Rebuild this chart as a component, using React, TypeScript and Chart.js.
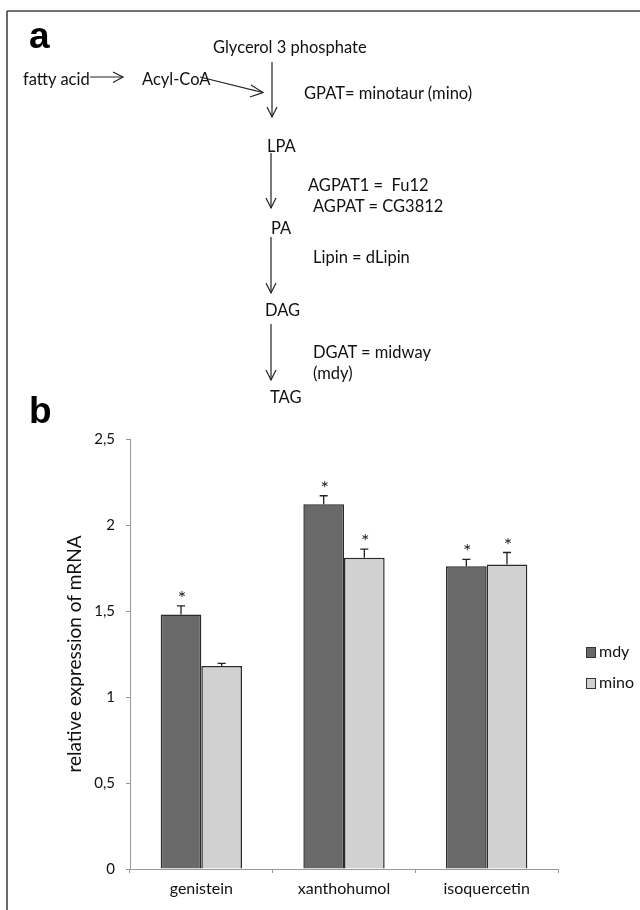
import React, { useEffect, useRef } from "react";
import { Chart, registerables } from "chart.js";

Chart.register(...registerables);

const categories = ["genistein", "xanthohumol", "isoquercetin"];
const seriesNames = ["mdy", "mino"];
const mdyValues = [1.48, 2.12, 1.76];
const minoValues = [1.18, 1.81, 1.77];
const mdyErrors = [0.05, 0.05, 0.04];
const minoErrors = [0.015, 0.05, 0.07];
const mdySignificant = [true, true, true];
const minoSignificant = [false, true, true];
const yTicks = [0, 0.5, 1, 1.5, 2, 2.5];
const yTickLabels = ["0", "0,5", "1", "1,5", "2", "2,5"];
const yAxisTitle = "relative expression of mRNA";

const errorsBySeries = [mdyErrors, minoErrors];
const sigBySeries = [mdySignificant, minoSignificant];
const seriesColors = ["#696969", "#d1d1d1"];

const FONT = "Lato, 'Open Sans', sans-serif";

const errorBarPlugin = {
  id: "errorBars",
  afterDatasetsDraw(chart: any) {
    const ctx = chart.ctx;
    const yScale = chart.scales.y;
    chart.data.datasets.forEach((ds: any, i: number) => {
      const meta = chart.getDatasetMeta(i);
      meta.data.forEach((el: any, j: number) => {
        const v = ds.data[j];
        const err = errorsBySeries[i][j];
        const yTop = yScale.getPixelForValue(v + err);
        const x = el.x;
        ctx.save();
        ctx.strokeStyle = "#222";
        ctx.lineWidth = 1.3;
        ctx.beginPath();
        ctx.moveTo(x, el.y);
        ctx.lineTo(x, yTop);
        ctx.moveTo(x - 4, yTop);
        ctx.lineTo(x + 4, yTop);
        ctx.stroke();
        if (sigBySeries[i][j]) {
          ctx.fillStyle = "#222";
          ctx.font = `20px ${FONT}`;
          ctx.textAlign = "center";
          ctx.textBaseline = "alphabetic";
          ctx.fillText("*", x + 1, yTop - 1);
        }
        ctx.restore();
      });
    });
  },
};

const legendPlugin = {
  id: "sideLegend",
  afterDraw(chart: any) {
    const ctx = chart.ctx;
    const area = chart.chartArea;
    ctx.save();
    chart.data.datasets.forEach((ds: any, i: number) => {
      const bx = area.right + 28;
      const cy = 652 + i * 31;
      ctx.fillStyle = ds.backgroundColor;
      ctx.fillRect(bx, cy - 5, 9, 10);
      ctx.strokeStyle = "#333";
      ctx.lineWidth = 1;
      ctx.strokeRect(bx + 0.5, cy - 4.5, 9, 10);
      ctx.fillStyle = "#111";
      ctx.font = `16px ${FONT}`;
      ctx.textAlign = "left";
      ctx.textBaseline = "middle";
      ctx.fillText(ds.label, bx + 13, cy);
    });
    ctx.restore();
  },
};

function Diagram() {
  const t = { fontFamily: FONT, fontSize: 16.5, fill: "#111" } as any;
  const arrowV = (x: number, y1: number, y2: number) => (
    <g stroke="#222" strokeWidth={1.2} fill="none">
      <line x1={x} y1={y1} x2={x} y2={y2} />
      <polyline points={`${x - 5},${y2 - 10} ${x},${y2} ${x + 5},${y2 - 10}`} />
    </g>
  );
  return (
    <svg
      width={640}
      height={910}
      style={{ position: "absolute", left: 0, top: 0, pointerEvents: "none" }}
    >
      <line x1={7} y1={11} x2={640} y2={11} stroke="#444" strokeWidth={1.6} />
      <line x1={7} y1={11} x2={7} y2={910} stroke="#444" strokeWidth={1.6} />
      <text x={29} y={48} style={{ fontFamily: "'Liberation Sans', Arial, sans-serif", fontWeight: 700, fontSize: 37 }} fill="#000">a</text>
      <text x={29} y={423} style={{ fontFamily: "'Liberation Sans', Arial, sans-serif", fontWeight: 700, fontSize: 37 }} fill="#000">b</text>
      <text x={213} y={53} style={t}>Glycerol 3 phosphate</text>
      <text x={23} y={85} style={t}>fatty acid</text>
      <g stroke="#222" strokeWidth={1.2} fill="none">
        <line x1={90} y1={77} x2={123} y2={77} />
        <polyline points="113,72 123,77 113,82.5" />
        <line x1={200} y1={77} x2={263} y2={92.5} />
        <polyline points="251,85 263,92.5 250,97" />
      </g>
      <text x={142} y={85} style={t}>Acyl-CoA</text>
      {arrowV(272, 62, 117)}
      <text x={304} y={99} style={t}>GPAT= minotaur (mino)</text>
      <text x={267} y={152} style={t}>LPA</text>
      {arrowV(271, 153, 208)}
      <text x={308} y={191} style={t} xmlSpace="preserve">AGPAT1 =  Fu12</text>
      <text x={313} y={211.5} style={t}>AGPAT = CG3812</text>
      <text x={271} y={234} style={t}>PA</text>
      {arrowV(271, 237, 293)}
      <text x={313} y={262.5} style={t}>Lipin = dLipin</text>
      <text x={265} y={316} style={t}>DAG</text>
      {arrowV(271, 324, 380)}
      <text x={313} y={358} style={t}>DGAT = midway</text>
      <text x={313} y={379} style={t}>(mdy)</text>
      <text x={270} y={403} style={t}>TAG</text>
    </svg>
  );
}

export default function App() {
  const ref = useRef<HTMLCanvasElement | null>(null);
  useEffect(() => {
    if (!ref.current) return;
    const chart = new Chart(ref.current, {
      type: "bar",
      data: {
        labels: categories,
        datasets: [
          {
            label: seriesNames[0],
            data: mdyValues,
            backgroundColor: seriesColors[0],
            borderColor: "#2a2a2a",
            borderWidth: 1.5,
            barPercentage: 1,
            categoryPercentage: 0.57,
          },
          {
            label: seriesNames[1],
            data: minoValues,
            backgroundColor: seriesColors[1],
            borderColor: "#2a2a2a",
            borderWidth: 1.5,
            barPercentage: 1,
            categoryPercentage: 0.57,
          },
        ],
      },
      options: {
        responsive: false,
        animation: false,
        devicePixelRatio: 1,
        layout: { padding: { top: 439, right: 82, left: 0, bottom: 0 } },
        plugins: {
          legend: { display: false },
          tooltip: { enabled: false },
        },
        scales: {
          x: {
            grid: {
              display: true,
              drawOnChartArea: false,
              drawTicks: true,
              tickLength: 4,
              color: "#999",
            },
            border: { color: "#999", width: 1 },
            ticks: { font: { family: FONT, size: 16 }, color: "#111", padding: 6 },
            afterFit: (s: any) => {
              s.height = 41;
            },
          },
          y: {
            min: 0,
            max: 2.5,
            afterBuildTicks: (s: any) => {
              s.ticks = yTicks.map((v) => ({ value: v }));
            },
            ticks: {
              font: { family: FONT, size: 15 },
              color: "#111",
              padding: 11,
              callback: (v: any) => {
                const i = yTicks.indexOf(Number(v));
                return i >= 0 ? yTickLabels[i] : String(v);
              },
            },
            grid: {
              display: true,
              drawOnChartArea: false,
              drawTicks: true,
              tickLength: 4,
              color: "#999",
            },
            border: { color: "#999", width: 1 },
            title: {
              display: true,
              text: yAxisTitle,
              font: { family: FONT, size: 19 },
              color: "#111",
              padding: { top: 63, bottom: 0 },
            },
            afterFit: (s: any) => {
              s.width = 130;
            },
          },
        },
      },
      plugins: [errorBarPlugin, legendPlugin],
    });
    return () => chart.destroy();
  }, []);
  return (
    <div style={{ position: "absolute", left: 0, top: 0, width: 640, height: 910, background: "#fff" }}>
      <canvas ref={ref} width={640} height={910} style={{ position: "absolute", left: 0, top: 0 }} />
      <Diagram />
    </div>
  );
}
